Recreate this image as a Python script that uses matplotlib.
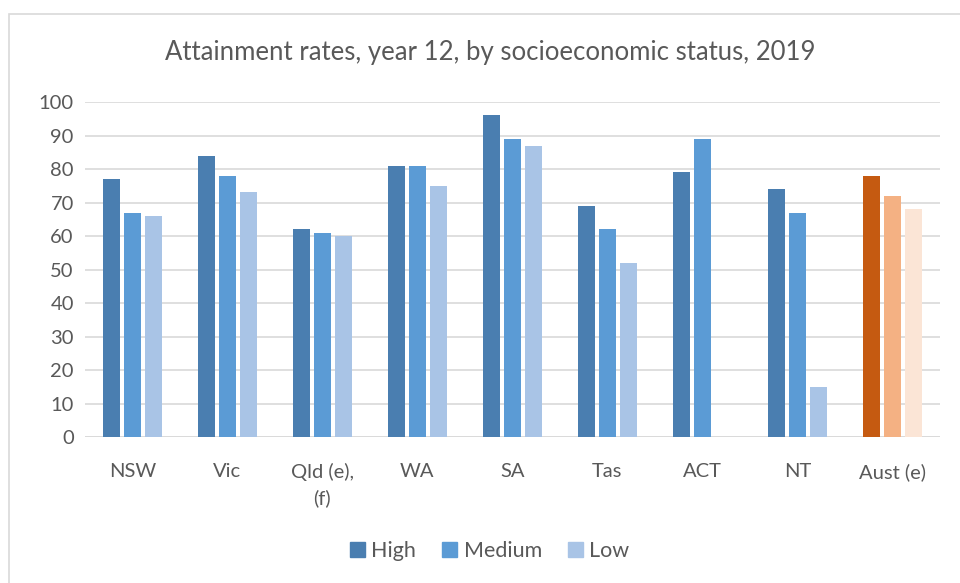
import numpy as np
import matplotlib.pyplot as plt
from matplotlib.patches import Rectangle

plt.rcParams['font.family'] = ['Lato', 'DejaVu Sans']

states = ['NSW', 'Vic', 'Qld (e),\n(f)', 'WA', 'SA', 'Tas', 'ACT', 'NT', 'Aust (e)']
high = [77, 84, 62, 81, 96, 69, 79, 74, 78]
medium = [67, 78, 61, 81, 89, 62, 89, 67, 72]
low = [66, 73, 60, 75, 87, 52, np.nan, 15, 68]

blues = ['#4a7eb0', '#5b9bd5', '#a9c4e6']
oranges = ['#c55a11', '#f4b183', '#fbe5d6']
text_col = '#595959'

fig = plt.figure(figsize=(9.6, 5.83), dpi=100)
fig.patches.append(Rectangle((9 / 960, -0.1), 1.2, 1 - 14 / 583 + 0.1,
                             transform=fig.transFigure, fill=False,
                             edgecolor='#d9d9d9', linewidth=1.2))
ax = fig.add_axes([0.0885, 0.2504, 0.8905, 0.5746])

x = np.arange(len(states))
w = 0.18
step = 0.22
for i, vals in enumerate([high, medium, low]):
    cols = [blues[i]] * (len(states) - 1) + [oranges[i]]
    ax.bar(x + (i - 1) * step, vals, width=w, color=cols, zorder=3)

ax.set_xlim(-0.5, len(states) - 0.5)
ax.set_ylim(0, 100)
ax.set_yticks(range(0, 101, 10))
ax.grid(axis='y', color='#d9d9d9', linewidth=1.2, zorder=0)
for s in ax.spines.values():
    s.set_visible(False)
ax.tick_params(length=0, labelsize=14.5, colors=text_col, pad=8)
ax.tick_params(axis='x', pad=19)
ax.set_xticks(x)
ax.set_xticklabels(states, linespacing=1.55)
ax.axhline(0, color='#d9d9d9', linewidth=1.2, zorder=2)

fig.text(0.511, 0.91, 'Attainment rates, year 12, by socioeconomic status, 2019',
         ha='center', va='center', fontsize=18.5, color=text_col)

handles = [Rectangle((0, 0), 1, 1, color=c) for c in blues]
fig.legend(handles, ['High', 'Medium', 'Low'], loc='center',
           bbox_to_anchor=(0.51, 0.055), ncol=3, frameon=False,
           fontsize=15.5, labelcolor=text_col, handlelength=0.7,
           handleheight=0.7, columnspacing=1.2, handletextpad=0.3)

fig.savefig('out.png', dpi=100)
